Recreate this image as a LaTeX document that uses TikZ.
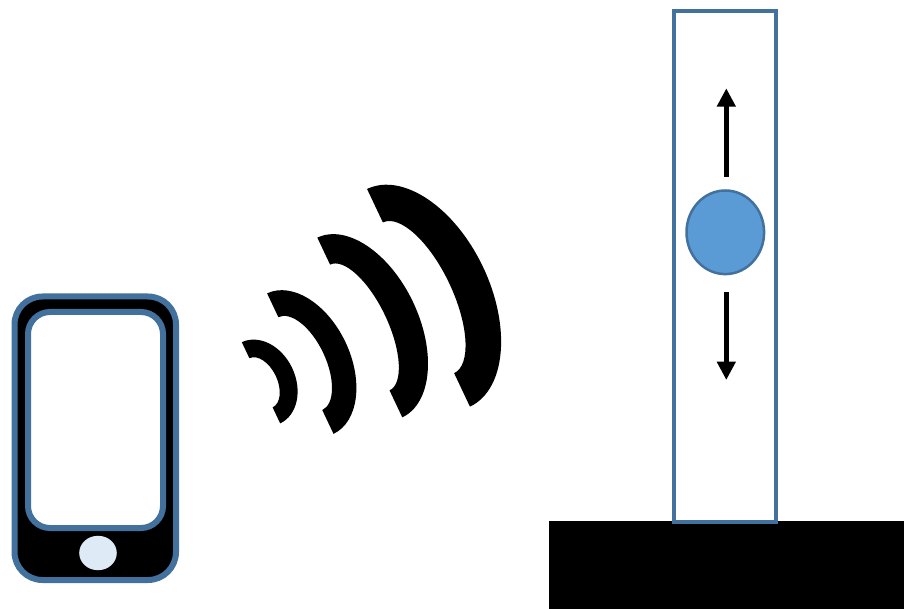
\documentclass[tikz,border=0pt]{standalone}
\usetikzlibrary{arrows.meta}
\definecolor{strokeblue}{HTML}{41719C}
\definecolor{ballblue}{HTML}{5B9BD5}
\definecolor{btnblue}{HTML}{DEEAF6}
\tikzset{
  bluestroke/.style={draw=strokeblue,line width=#1},
  movearrow/.style={line width=5pt,-{Triangle[length=18.4pt,width=18pt]}},
  pics/wave/.style args={#1/#2/#3/#4}{code={
    \fill[black,rotate=25.3] (0pt,#1pt) arc [start angle=90,end angle=-90,x radius=#2pt,y radius=#1pt]
      -- (0pt,-#3pt) arc [start angle=-90,end angle=90,x radius=#4pt,y radius=#3pt] -- cycle;
  }}
}
\begin{document}
\begin{tikzpicture}[x=1pt,y=-1pt]
\useasboundingbox (0,0) rectangle (905,609);
% phone
\draw[bluestroke=6pt,fill=black,rounded corners=28pt] (14.5,296.5) rectangle (176,580);
\draw[bluestroke=6pt,fill=white,rounded corners=22pt] (28,312) rectangle (163,528);
\fill[btnblue] (98,553) ellipse [x radius=18.8,y radius=17.2];
% waves
\pic at (261,382.8) {wave={44.9/34.5/27.2/16.3}};
\pic at (300.3,363.6) {wave={77.7/50/51.4/25.3}};
\pic at (359.8,327.5) {wave={99.4/59/69.6/28}};
\pic at (418.5,297.8) {wave={120.4/71.5/83.4/34}};
% base and tube
\fill[black] (549,521) rectangle (904,609);
\draw[bluestroke=4pt,fill=none] (674.3,11) rectangle (776,522);
% ball
\draw[bluestroke=2.5pt,fill=ballblue] (725.3,232.3) ellipse [x radius=38.8,y radius=41.8];
% arrows
\coordinate (upA) at (726.3,176.7);
\coordinate (upB) at (726.3,88.3);
\coordinate (dnA) at (726.3,292.3);
\coordinate (dnB) at (726.3,380);
\draw[movearrow] (upA) -- (upB);
\draw[movearrow] (dnA) -- (dnB);
\end{tikzpicture}
\end{document}
